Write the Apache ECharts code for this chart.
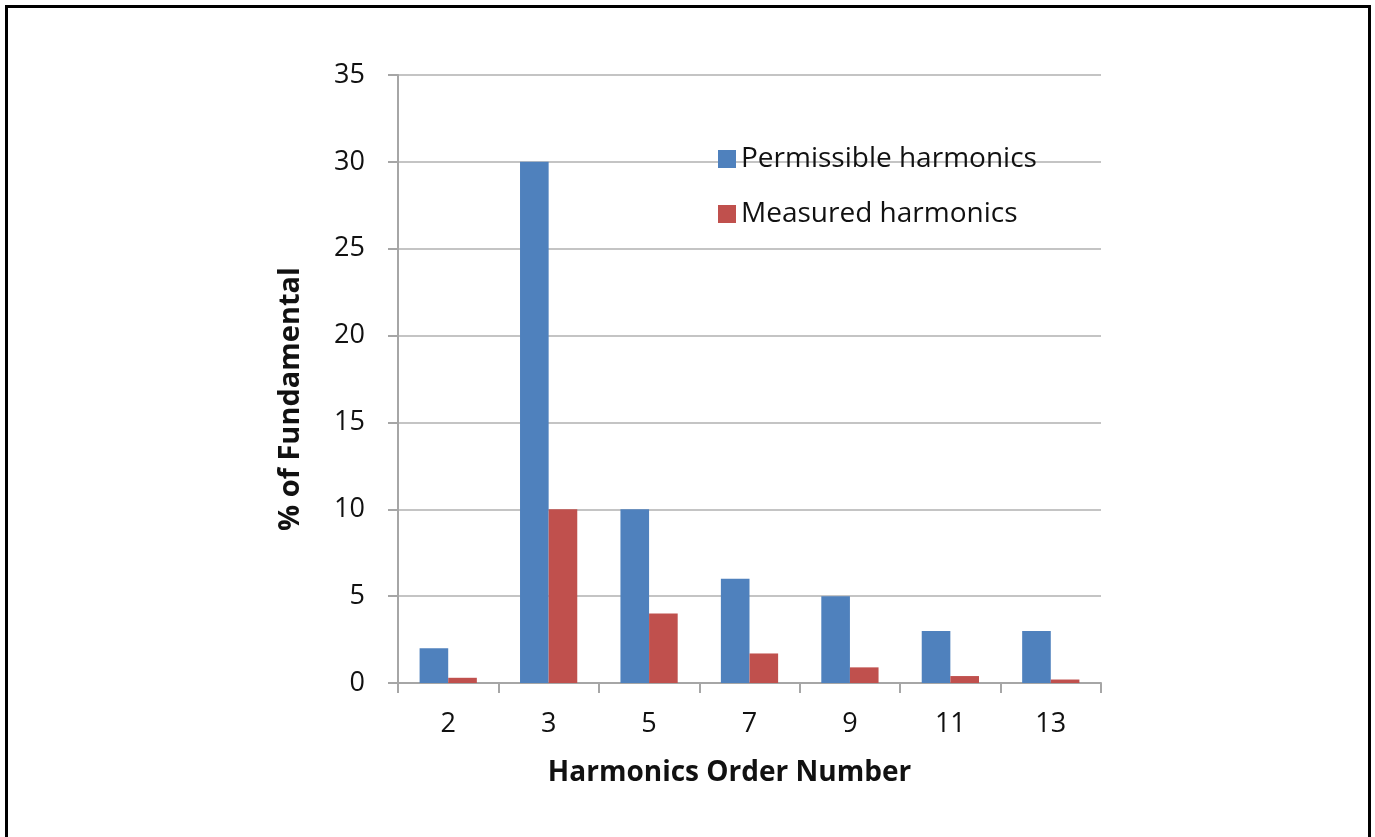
<!DOCTYPE html>
<html>
<head>
<meta charset="utf-8">
<script src="https://cdn.jsdelivr.net/npm/echarts@6/dist/echarts.min.js"></script>
<style>
html,body{margin:0;padding:0;background:#fff;}
#chart{position:absolute;left:0;top:0;width:1375px;height:837px;}
#frame{position:absolute;left:5px;top:5px;width:1360px;height:900px;border:3px solid #000;pointer-events:none;}
</style>
</head>
<body>
<div id="chart"></div>
<div id="frame"></div>
<script>
const categories = ['2', '3', '5', '7', '9', '11', '13'];
const permissible = [2, 30, 10, 6, 5, 3, 3];
const measured = [0.3, 10, 4, 1.7, 0.9, 0.4, 0.2];
const seriesNames = ['Permissible harmonics', 'Measured harmonics'];
const yTicks = {min: 0, max: 35, interval: 5};
const xName = 'Harmonics Order Number';
const yName = '% of Fundamental';

const font = '"Open Sans", "Liberation Sans", sans-serif';
const chart = echarts.init(document.getElementById('chart'), null, {renderer: 'canvas'});
chart.setOption({
  animation: false,
  backgroundColor: '#ffffff',
  textStyle: {fontFamily: font},
  grid: {left: 398, right: 274, top: 75, bottom: 154, containLabel: false},
  legend: {
    orient: 'vertical', left: 713, top: 140,
    itemWidth: 18, itemHeight: 18, itemGap: 27,
    icon: 'rect',
    textStyle: {fontFamily: font, fontSize: 28, color: '#111', padding: [0, 0, 0, 0]},
    data: seriesNames
  },
  xAxis: {
    type: 'category', data: categories,
    name: xName, nameLocation: 'middle', nameGap: 76,
    nameTextStyle: {fontFamily: font, fontSize: 28, fontWeight: 'bold', color: '#111', padding: [0, 40, 0, 0]},
    axisLine: {lineStyle: {color: '#a6a6a6', width: 2}},
    axisTick: {show: true, length: 10, lineStyle: {color: '#a6a6a6', width: 2}},
    axisLabel: {fontFamily: font, fontSize: 27, color: '#111', margin: 28}
  },
  yAxis: {
    type: 'value', min: yTicks.min, max: yTicks.max, interval: yTicks.interval,
    name: yName, nameLocation: 'middle', nameGap: 93, nameRotate: 90,
    nameTextStyle: {fontFamily: font, fontSize: 29, fontWeight: 'bold', color: '#111', padding: [0, 40, 0, 0]},
    axisLine: {show: true, lineStyle: {color: '#a6a6a6', width: 2}},
    axisTick: {show: true, length: 10, lineStyle: {color: '#a6a6a6', width: 2}},
    splitLine: {show: true, lineStyle: {color: '#c4c4c4', width: 2}},
    axisLabel: {fontFamily: font, fontSize: 27, color: '#111', margin: 33}
  },
  series: [
    {name: seriesNames[0], type: 'bar', data: permissible, barGap: '0%', barCategoryGap: '43%',
     itemStyle: {color: '#4f81bd'}},
    {name: seriesNames[1], type: 'bar', data: measured, barGap: '0%', barCategoryGap: '43%',
     itemStyle: {color: '#c0504d'}}
  ]
});
</script>
</body>
</html>
